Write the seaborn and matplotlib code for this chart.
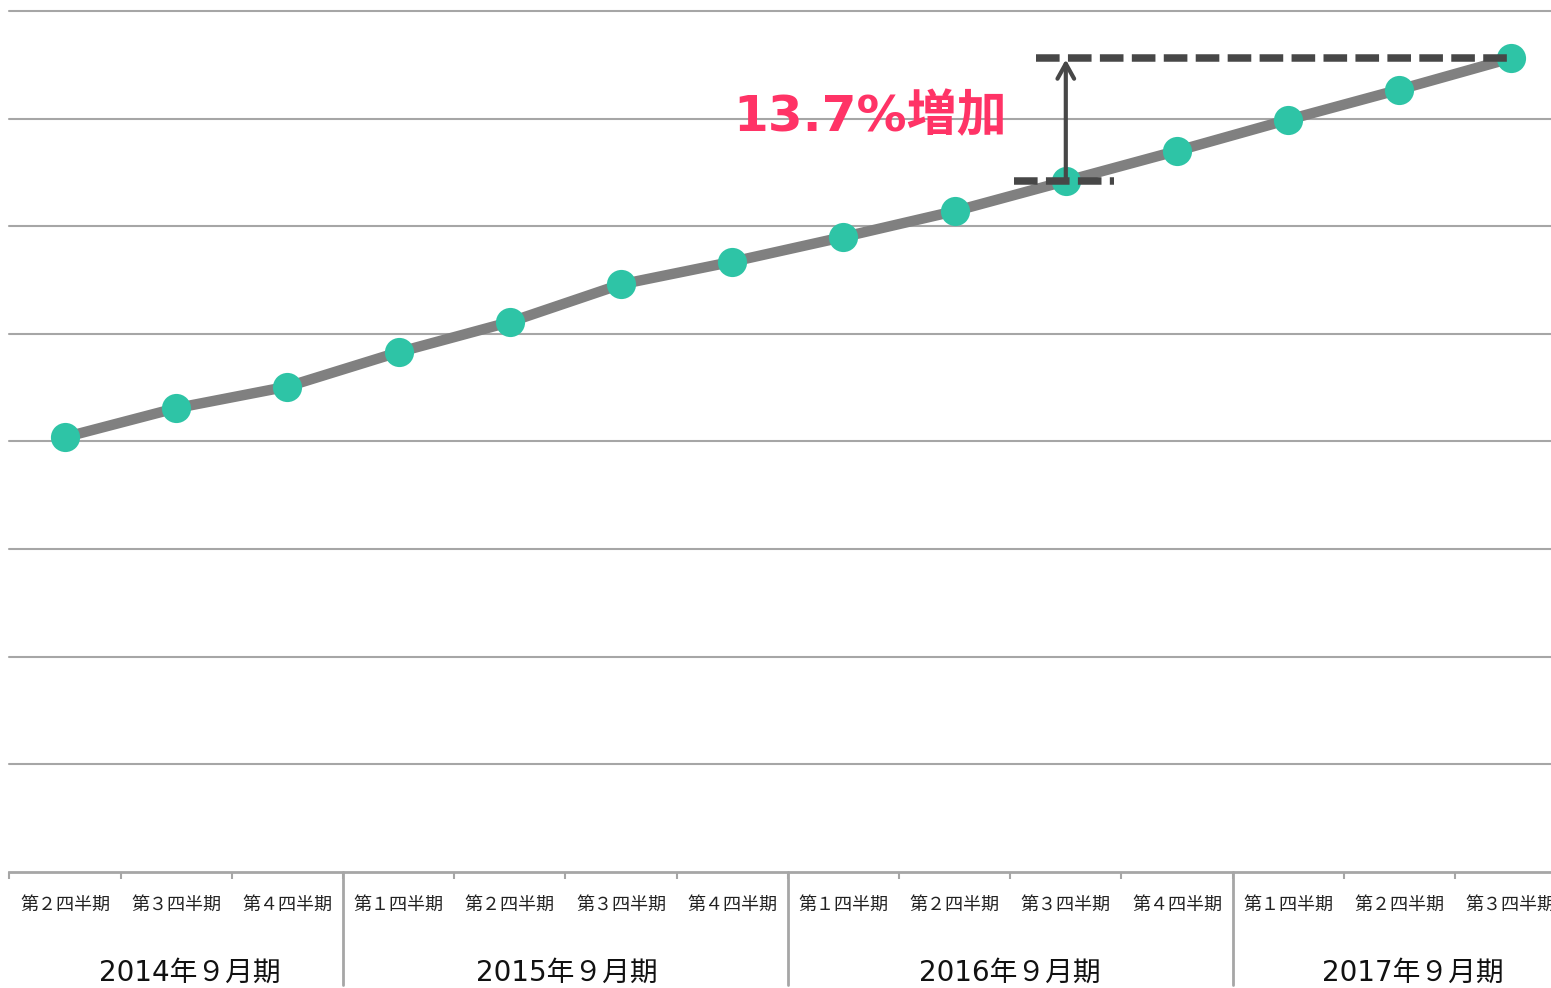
import numpy as np
import pandas as pd
import matplotlib
matplotlib.use('Agg')
import matplotlib.pyplot as plt
import matplotlib.transforms as mtransforms
import seaborn as sns

# %%

quarters = ['第２四半期', '第３四半期', '第４四半期',
            '第１四半期', '第２四半期', '第３四半期', '第４四半期',
            '第１四半期', '第２四半期', '第３四半期', '第４四半期',
            '第１四半期', '第２四半期', '第３四半期']
values = [4.04, 4.31, 4.51, 4.83, 5.11, 5.46, 5.67, 5.90,
          6.14, 6.42, 6.70, 6.99, 7.27, 7.56]
years = ['2014年９月期', '2015年９月期', '2016年９月期', '2017年９月期']
year_centers = [1.12, 4.51, 8.5, 12.12]
year_breaks = [2.5, 6.5, 10.5]
label_text = '13.7%増加'

df = pd.DataFrame({'q': np.arange(len(values)), 'value': values})

# %%

sns.set_theme(style='white')
plt.rcParams['font.family'] = ['DejaVu Sans', 'Noto Sans CJK JP']
plt.rcParams['lines.scale_dashes'] = False

fig = plt.figure(figsize=(15.51, 9.88), dpi=100)
ax = fig.add_axes([9.4 / 1551, 116 / 988, 1556.8 / 1551, 861 / 988])

grid_c = '#a6a6a6'
ax.set_ylim(0, 8)
ax.set_yticks(range(9))
ax.set_yticklabels([])
ax.tick_params(axis='y', length=0)
for y in range(1, 9):
    ax.axhline(y, color=grid_c, lw=1.5, zorder=0, clip_on=False)

sns.lineplot(data=df, x='q', y='value', ax=ax, color='#808080', lw=7.5,
             marker='o', markersize=21, markerfacecolor='#2ec4a6',
             markeredgewidth=0, zorder=3)

# dashed guide lines + arrow
dash = (0, (17, 6))
ax.hlines(values[-1], 8.73, 12.98, color='#474747', lw=5.4,
          linestyles=[dash], zorder=4, capstyle='butt')
ax.hlines(values[9], 8.53, 9.43, color='#474747', lw=5.4,
          linestyles=[dash], zorder=4, capstyle='butt')
ax.annotate('', xy=(9.0, values[-1] - 0.01), xytext=(9.0, values[9]),
            arrowprops=dict(arrowstyle='->,head_length=0.9,head_width=0.5',
                            color='#474747', lw=3, shrinkA=0, shrinkB=0),
            zorder=5)
ax.text(7.24, (872 - 117) / 107.6, label_text, color='#ff3366',
        fontsize=36, fontweight='bold', ha='center', va='center', zorder=6)

# x axis
ax.set_xlim(-0.5, 13.5)
ax.set_xticks(range(len(quarters)))
ax.set_xticklabels(quarters, fontsize=13, color='#222222')
ax.set_xticks(np.arange(-0.5, 14, 1), minor=True)
ax.tick_params(axis='x', which='major', length=0, pad=17)
ax.tick_params(axis='x', which='minor', length=5, width=1.5,
               color=grid_c, direction='out', bottom=True)
ax.set_xlabel('')
ax.set_ylabel('')
for s in ['left', 'top', 'right']:
    ax.spines[s].set_visible(False)
ax.spines['bottom'].set_color(grid_c)
ax.spines['bottom'].set_linewidth(2)

trans = mtransforms.blended_transform_factory(ax.transData, fig.transFigure)
for b in year_breaks:
    ax.plot([b, b], [116 / 988, 3 / 988], color=grid_c, lw=2,
            transform=trans, clip_on=False)
for c, t in zip(year_centers, years):
    ax.text(c, 15 / 988, t, transform=trans, ha='center', va='center',
            fontsize=20, color='#111111')

fig.savefig('out.png', dpi=100)
